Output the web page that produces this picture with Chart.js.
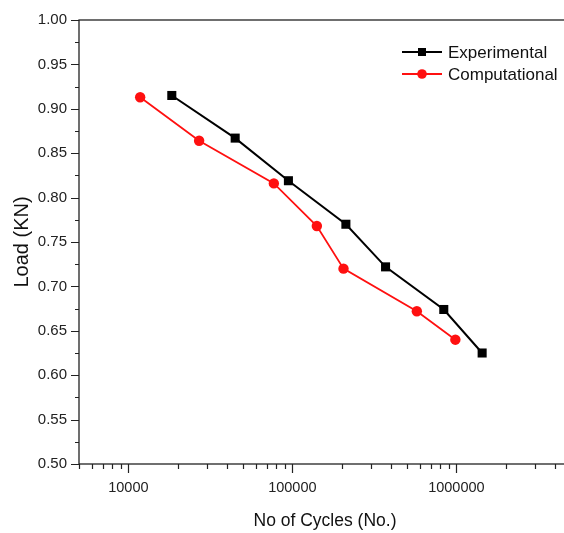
<!DOCTYPE html>
<html>
<head>
<meta charset="utf-8">
<script src="https://cdn.jsdelivr.net/npm/chart.js@4.4.1/dist/chart.umd.min.js"></script>
<style>
  html, body { margin: 0; padding: 0; background: #fff; overflow: hidden; }
  #wrap { width: 580px; height: 533px; }
</style>
</head>
<body>
<div id="wrap"><canvas id="fatigueChart" width="580" height="533"></canvas></div>
<script>
// values
const expCycles  = [18400, 44800, 94600, 212000, 370000, 838000, 1436000];
const expLoad    = [0.915, 0.867, 0.819, 0.770, 0.722, 0.674, 0.625];
const compCycles = [11800, 27000, 77100, 141000, 205000, 574000, 986000];
const compLoad   = [0.913, 0.864, 0.816, 0.768, 0.720, 0.672, 0.640];

const xMajorTicks = [10000, 100000, 1000000];
const xDecades    = [1000, 10000, 100000, 1000000];
const xMultiples  = [1, 2, 3, 4, 5, 6, 7, 8, 9];
const yMajorTicks = [0.50, 0.55, 0.60, 0.65, 0.70, 0.75, 0.80, 0.85, 0.90, 0.95, 1.00];

const X_MIN = 5000, X_MAX = 5000000;

const xTickValues = [];
xDecades.forEach(d => xMultiples.forEach(m => {
    const v = d * m;
    if (v >= X_MIN && v <= X_MAX) xTickValues.push(v);
}));
const yTickValues = [];
yMajorTicks.forEach((v, i) => {
    yTickValues.push(v);
    if (i < yMajorTicks.length - 1) yTickValues.push(+(v + 0.025).toFixed(3));
});

const isMajorY = v => yMajorTicks.some(m => Math.abs(m - v) < 1e-6);

const INK = '#222';

// frame + outward tick marks
const framePlugin = {
    id: 'frameTicks',
    beforeDatasetsDraw(chart) {
        const { ctx, chartArea: a, scales } = chart;
        ctx.save();
        ctx.strokeStyle = INK;
        ctx.lineWidth = 1.3;
        ctx.strokeRect(a.left, a.top, a.right - a.left, a.bottom - a.top);
        ctx.lineWidth = 1.2;
        ctx.beginPath();
        scales.y.ticks.forEach(t => {
            const py = Math.round(scales.y.getPixelForValue(t.value)) + 0.5;
            const len = isMajorY(t.value) ? 8 : 4;
            ctx.moveTo(a.left - len, py);
            ctx.lineTo(a.left, py);
        });
        scales.x.ticks.forEach(t => {
            const px = Math.round(scales.x.getPixelForValue(t.value)) + 0.5;
            const len = xMajorTicks.includes(t.value) ? 9 : 5;
            ctx.moveTo(px, a.bottom);
            ctx.lineTo(px, a.bottom + len);
        });
        ctx.stroke();
        ctx.restore();
    }
};

// legend drawn inside the plot, line with marker in the middle
const legendPlugin = {
    id: 'insideLegend',
    afterDraw(chart) {
        const ctx = chart.ctx;
        const x0 = 402, lineLen = 40;
        ctx.save();
        chart.data.datasets.forEach((ds, i) => {
            const y = 52 + i * 22;
            ctx.strokeStyle = ds.borderColor;
            ctx.lineWidth = 2;
            ctx.beginPath();
            ctx.moveTo(x0, y);
            ctx.lineTo(x0 + lineLen, y);
            ctx.stroke();
            ctx.fillStyle = ds.pointBackgroundColor;
            const cx = x0 + lineLen / 2;
            if (ds.pointStyle === 'rect') {
                ctx.fillRect(cx - 4, y - 4, 8, 8);
            } else {
                ctx.beginPath();
                ctx.arc(cx, y, 4.8, 0, Math.PI * 2);
                ctx.fill();
            }
            ctx.fillStyle = '#111';
            ctx.font = '17px "Liberation Sans", Arial, sans-serif';
            ctx.textBaseline = 'middle';
            ctx.textAlign = 'left';
            ctx.fillText(ds.label, x0 + lineLen + 6, y + 1);
        });
        ctx.restore();
    }
};

const ctx = document.getElementById('fatigueChart');

new Chart(ctx, {
    type: 'line',
    data: {
        datasets: [
            {
                label: 'Experimental',
                data: expCycles.map((c, i) => ({ x: c, y: expLoad[i] })),
                borderColor: '#000',
                borderWidth: 2,
                pointStyle: 'rect',
                pointRadius: 6.4,
                pointBackgroundColor: '#000',
                pointBorderWidth: 0,
                tension: 0,
                fill: false
            },
            {
                label: 'Computational',
                data: compCycles.map((c, i) => ({ x: c, y: compLoad[i] })),
                borderColor: '#ff1010',
                borderWidth: 1.8,
                pointStyle: 'circle',
                pointRadius: 5.2,
                pointBackgroundColor: '#ff1010',
                pointBorderWidth: 0,
                tension: 0,
                fill: false
            }
        ]
    },
    options: {
        responsive: false,
        devicePixelRatio: 1,
        animation: false,
        layout: { padding: { top: 20, right: 9, bottom: 0, left: 0 } },
        plugins: {
            legend: { display: false },
            tooltip: { enabled: false }
        },
        scales: {
            x: {
                type: 'logarithmic',
                min: X_MIN,
                max: X_MAX,
                grid: { display: false, drawTicks: false },
                border: { display: false },
                afterBuildTicks: axis => {
                    axis.ticks = xTickValues.map(v => ({ value: v }));
                },
                afterFit: scale => {
                    scale.height = 69;
                    scale.paddingLeft = 0;
                    scale.paddingRight = 0;
                },
                ticks: {
                    autoSkip: false,
                    maxRotation: 0,
                    padding: 15,
                    color: INK,
                    font: { family: '"Liberation Sans", Arial, sans-serif', size: 14.5 },
                    callback: value => xMajorTicks.includes(value) ? String(value) : ''
                },
                title: {
                    display: true,
                    text: 'No of Cycles (No.)',
                    color: '#111',
                    font: { family: '"Liberation Sans", Arial, sans-serif', size: 17.5 },
                    padding: { top: 4, bottom: 1 }
                }
            },
            y: {
                min: 0.5,
                max: 1.0,
                grid: { display: false, drawTicks: false },
                border: { display: false },
                afterBuildTicks: axis => {
                    axis.ticks = yTickValues.map(v => ({ value: v }));
                },
                afterFit: scale => {
                    scale.width = 79;
                    scale.paddingTop = 0;
                    scale.paddingBottom = 0;
                },
                ticks: {
                    autoSkip: false,
                    padding: 12,
                    color: INK,
                    font: { family: '"Liberation Sans", Arial, sans-serif', size: 15 },
                    callback: value => isMajorY(value) ? value.toFixed(2) : ''
                },
                title: {
                    display: true,
                    text: 'Load (KN)',
                    color: '#111',
                    font: { family: '"Liberation Sans", Arial, sans-serif', size: 20 },
                    padding: { top: 10, bottom: 0 }
                }
            }
        }
    },
    plugins: [framePlugin, legendPlugin]
});
</script>
</body>
</html>
